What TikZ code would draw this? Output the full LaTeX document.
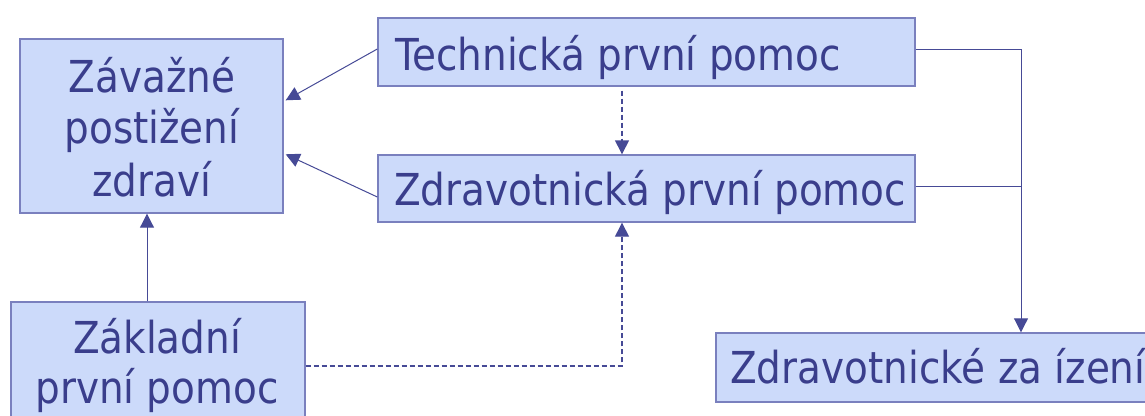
\documentclass[tikz,border=0pt]{standalone}
\usepackage{fontspec}
\setmainfont[FakeStretch=0.885]{DejaVu Sans}
\usetikzlibrary{arrows.meta}
\definecolor{boxfill}{RGB}{204,218,250}
\definecolor{boxline}{RGB}{122,128,190}
\definecolor{txt}{RGB}{58,62,140}
\definecolor{conn}{RGB}{70,74,150}
\tikzset{
  box/.style={draw=boxline, line width=1.4pt, fill=boxfill, inner sep=0pt},
  lbl/.style={inner sep=0pt, text=txt, font=\fontsize{44}{52}\selectfont},
  link/.style={draw=conn, line width=1pt, -{Triangle[length=14pt,width=14pt]}},
  plain/.style={draw=conn, line width=1pt},
  dlink/.style={draw=conn, line width=1.4pt, dash pattern=on 5pt off 3pt, -{Triangle[length=14pt,width=14pt]}}
}
\begin{document}
\begin{tikzpicture}[x=1pt,y=-1pt]
\useasboundingbox (0,0) rectangle (1145,415);
% boxes
\node[box, minimum width=263pt, minimum height=174pt] (A) at (151.5,126) {};
\node[box, minimum width=537pt, minimum height=68pt] (T) at (646.5,52) {};
\node[box, minimum width=537pt, minimum height=67pt] (Z) at (646.5,188.5) {};
\node[box, minimum width=294pt, minimum height=128pt] (K) at (158,366) {};
\node[box, minimum width=434pt, minimum height=69pt] (R) at (933,367.5) {};
% texts
\node[lbl, anchor=base] (a1) at (152,92) {Závažné};
\node[lbl, anchor=base] (a2) at (152,143.5) {postižení};
\node[lbl, anchor=base] (a3) at (152,196.5) {zdraví};
\node[lbl, anchor=base west] (t1) at (395,70) {Technická první pomoc};
\node[lbl, anchor=base west] (z1) at (394,205) {Zdravotnická první pomoc};
\node[lbl, anchor=base] (k1) at (157,353) {Základní};
\node[lbl, anchor=base] (k2) at (157,403) {první pomoc};
\node[lbl, anchor=base west] (r1) at (730,383) {Zdravotnické za ízení};
% connectors
\coordinate (j) at (1021,186);
\draw[link] ([yshift=3pt]T.west) -- ([xshift=2pt,yshift=-62pt]A.north east);
\draw[link] ([yshift=-8.5pt]Z.west) -- ([xshift=2pt,yshift=-116pt]A.north east);
\draw[dlink] ([xshift=-24.5pt,yshift=-4pt]T.south) -- ([xshift=-24.5pt]Z.north);
\draw[link] ([yshift=3pt]T.east) -| ([xshift=88pt]R.north);
\draw[plain] ([yshift=2.5pt]Z.east) -- (j);
\draw[link] ([xshift=-11pt]K.north) -- ([xshift=-11pt]K.north |- A.south);
\draw[dlink] (K.east) -| ([xshift=-24.5pt]Z.south);
\end{tikzpicture}
\end{document}
